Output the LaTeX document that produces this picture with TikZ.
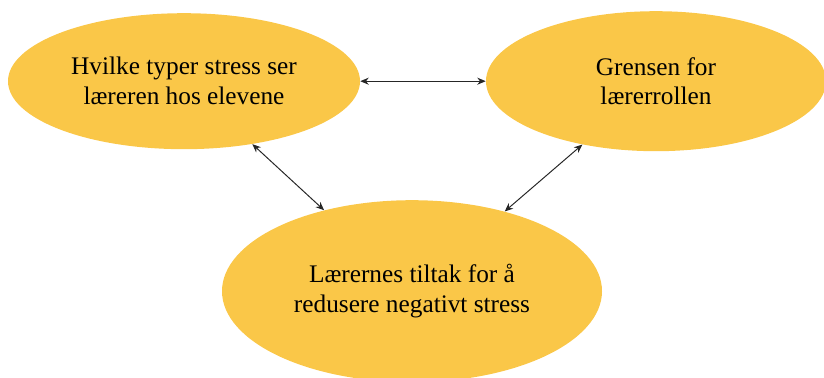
\documentclass[tikz,border=0pt]{standalone}
\usepackage{fontspec}
\setmainfont{Liberation Serif}
\usepackage{xcolor}
\usetikzlibrary{arrows.meta, positioning, shapes.geometric}
\definecolor{gold}{HTML}{FAC748}

\begin{document}
\begin{tikzpicture}[
    >={Stealth[length=6pt, width=5pt]},
    topic/.style={ellipse, fill=gold, inner sep=0pt, align=center, font=\fontsize{18}{21.3}\selectfont, #1},
    link/.style={<->, line width=0.7pt, black!85},
]
    \useasboundingbox (0, 0) rectangle (20.6, -9.45);

    % themes
    \node[topic={minimum width=8.8cm, minimum height=3.4cm}] (types) at (4.6, -2.03) {Hvilke typer stress ser\\læreren hos elevene};
    \node[topic={minimum width=8.5cm, minimum height=3.5cm}] (role) at (16.4, -2.03) {Grensen for\\lærerrollen};
    \node[topic={minimum width=9.5cm, minimum height=4.55cm}] (measures) at (10.3, -7.28) {Lærernes tiltak for å\\redusere negativt stress};

    % relations
    \draw[link] (types) -- (role);
    \draw[link] (types) -- (measures);
    \draw[link] (role) -- (measures);
\end{tikzpicture}
\end{document}
